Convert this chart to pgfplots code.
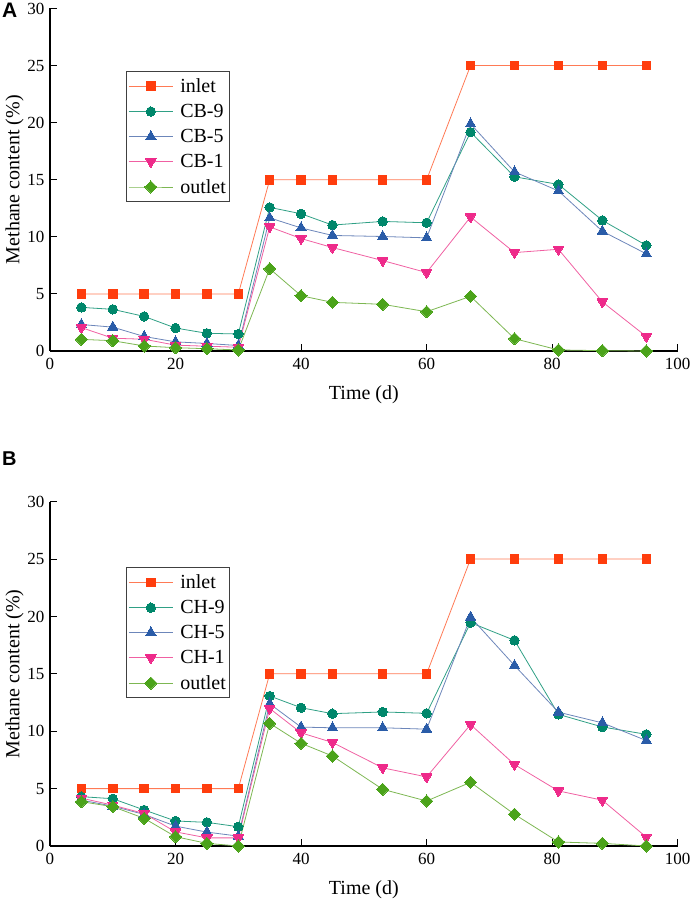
\documentclass[border=0pt]{standalone}
\usepackage{pgfplots}
\pgfplotsset{compat=1.18}
\usepackage{pgfplotstable}
\usepackage{fontspec}
\setmainfont{Liberation Serif}
\newfontfamily\labelfont{Liberation Sans}

\definecolor{cin}{HTML}{FF3D0D}
\definecolor{cinl}{HTML}{FF7A55}
\definecolor{cnine}{HTML}{00876B}
\definecolor{cninel}{HTML}{2FA085}
\definecolor{cfive}{HTML}{2A5CA8}
\definecolor{cfivel}{HTML}{6C86BA}
\definecolor{cone}{HTML}{EE2A8A}
\definecolor{conel}{HTML}{F060A2}
\definecolor{cout}{HTML}{4BA31A}
\definecolor{coutl}{HTML}{7DB752}

\pgfplotstableread{
x  inlet s9    s5    s1    outlet
5  5     3.82  2.32  2.05  1.02
10 5     3.65  2.09  1.12  0.90
15 5     3.03  1.27  1.03  0.44
20 5     2.01  0.80  0.51  0.29
25 5     1.55  0.66  0.42  0.20
30 5     1.49  0.48  0.33  0.09
35 15    12.58 11.66 10.87 7.21
40 15    12.02 10.78 9.85  4.84
45 15    11.03 10.12 9.06  4.26
53 15    11.35 10.03 7.92  4.09
60 15    11.23 9.91  6.87  3.44
67 25    19.17 19.89 11.74 4.79
74 25    15.26 15.69 8.62  1.08
81 25    14.59 14.02 8.91  0.09
88 25    11.44 10.49 4.30  0.03
95 25    9.25  8.51  1.27  0.00
}\dataA

\pgfplotstableread{
x  inlet s9    s5    s1    outlet
5  5     4.30  4.00  4.17  3.86
10 5     4.12  3.47  3.56  3.43
15 5     3.14  2.75  2.83  2.41
20 5     2.18  1.73  1.23  0.81
25 5     2.06  1.21  0.71  0.23
30 5     1.68  0.86  0.71  0.00
35 15    13.07 12.39 11.98 10.69
40 15    12.05 10.36 9.86  8.95
45 15    11.53 10.30 9.02  7.84
53 15    11.68 10.30 6.81  4.94
60 15    11.56 10.18 6.02  3.92
67 25    19.46 19.94 10.58 5.55
74 25    17.92 15.73 7.10  2.76
81 25    11.47 11.66 4.80  0.35
88 25    10.37 10.73 3.99  0.23
95 25    9.73  9.19  0.77  0.00
}\dataB

\pgfplotsset{
  panel/.style={
    scale only axis,
    width=627.7pt,
    xmin=0, xmax=100, ymin=0, ymax=30,
    axis x line*=bottom, axis y line*=left,
    axis line style={line width=1.2pt, black},
    every tick/.style={line width=1.1pt, black},
    tick align=inside,
    major tick length=7pt,
    xtick={0,20,...,100}, ytick={0,5,...,30},
    minor tick num=0,
    clip=false,
    /pgf/number format/assume math mode=true,
    tick label style={font=\fontsize{17}{17}\selectfont},
    xticklabel style={yshift=-4pt},
    yticklabel style={xshift=-2pt},
    label style={font=\fontsize{20}{20}\selectfont},
    xlabel={Time (d)},
    ylabel={Methane content (\%)},
    xlabel style={yshift=-9pt},
    ylabel style={yshift=-3pt},
    legend cell align=left,
    legend style={
      font=\fontsize{20}{20}\selectfont,
      draw=black!75, line width=1pt,
      anchor=north west,
      inner xsep=2pt, inner ysep=5pt,
      row sep=6.3pt, column sep=5pt,
      nodes={inner sep=2pt},
    },
    legend image code/.code={%
      \draw[mark repeat=2,mark phase=2] plot coordinates {(0pt,0pt) (22pt,0pt) (44pt,0pt)};},
  },
  sin/.style={color=cinl, line width=0.8pt, mark=square*, mark size=4.3pt, mark options={solid, draw=cin, fill=cin, line width=0pt}},
  snine/.style={color=cninel, line width=0.8pt, mark=*, mark size=4.7pt, mark options={solid, draw=cnine, fill=cnine, line width=0pt}},
  sfive/.style={color=cfivel, line width=0.8pt, mark=triangle*, mark size=6pt, mark options={solid, draw=cfive, fill=cfive, line width=0pt}},
  sone/.style={color=conel, line width=0.8pt, mark=triangle*, mark size=6pt, mark options={solid, rotate=180, draw=cone, fill=cone, line width=0pt}},
  sout/.style={color=coutl, line width=0.8pt, mark=square*, mark size=4.3pt, mark options={solid, rotate=45, draw=cout, fill=cout, line width=0pt}},
}

\begin{document}
\begin{tikzpicture}
\useasboundingbox (0,0) rectangle (692pt,906pt);

\begin{axis}[panel, at={(50pt,555pt)}, anchor=south west, height=342.5pt,
  legend style={at={(0.121,0.8175)}}]
\addplot[sin] table[x=x,y=inlet]{\dataA}; \addlegendentry{inlet}
\addplot[snine] table[x=x,y=s9]{\dataA}; \addlegendentry{CB-9}
\addplot[sfive] table[x=x,y=s5]{\dataA}; \addlegendentry{CB-5}
\addplot[sone] table[x=x,y=s1]{\dataA}; \addlegendentry{CB-1}
\addplot[sout] table[x=x,y=outlet]{\dataA}; \addlegendentry{outlet}
\end{axis}

\begin{axis}[panel, at={(50pt,60pt)}, anchor=south west, height=344.3pt,
  legend style={at={(0.121,0.810)}}]
\addplot[sin] table[x=x,y=inlet]{\dataB}; \addlegendentry{inlet}
\addplot[snine] table[x=x,y=s9]{\dataB}; \addlegendentry{CH-9}
\addplot[sfive] table[x=x,y=s5]{\dataB}; \addlegendentry{CH-5}
\addplot[sone] table[x=x,y=s1]{\dataB}; \addlegendentry{CH-1}
\addplot[sout] table[x=x,y=outlet]{\dataB}; \addlegendentry{outlet}
\end{axis}

\node[anchor=north west, inner sep=0pt, font=\labelfont\bfseries\fontsize{21}{21}\selectfont] at (2pt,903pt) {A};
\node[anchor=north west, inner sep=0pt, font=\labelfont\bfseries\fontsize{20}{20}\selectfont] at (2pt,454pt) {B};
\end{tikzpicture}
\end{document}
